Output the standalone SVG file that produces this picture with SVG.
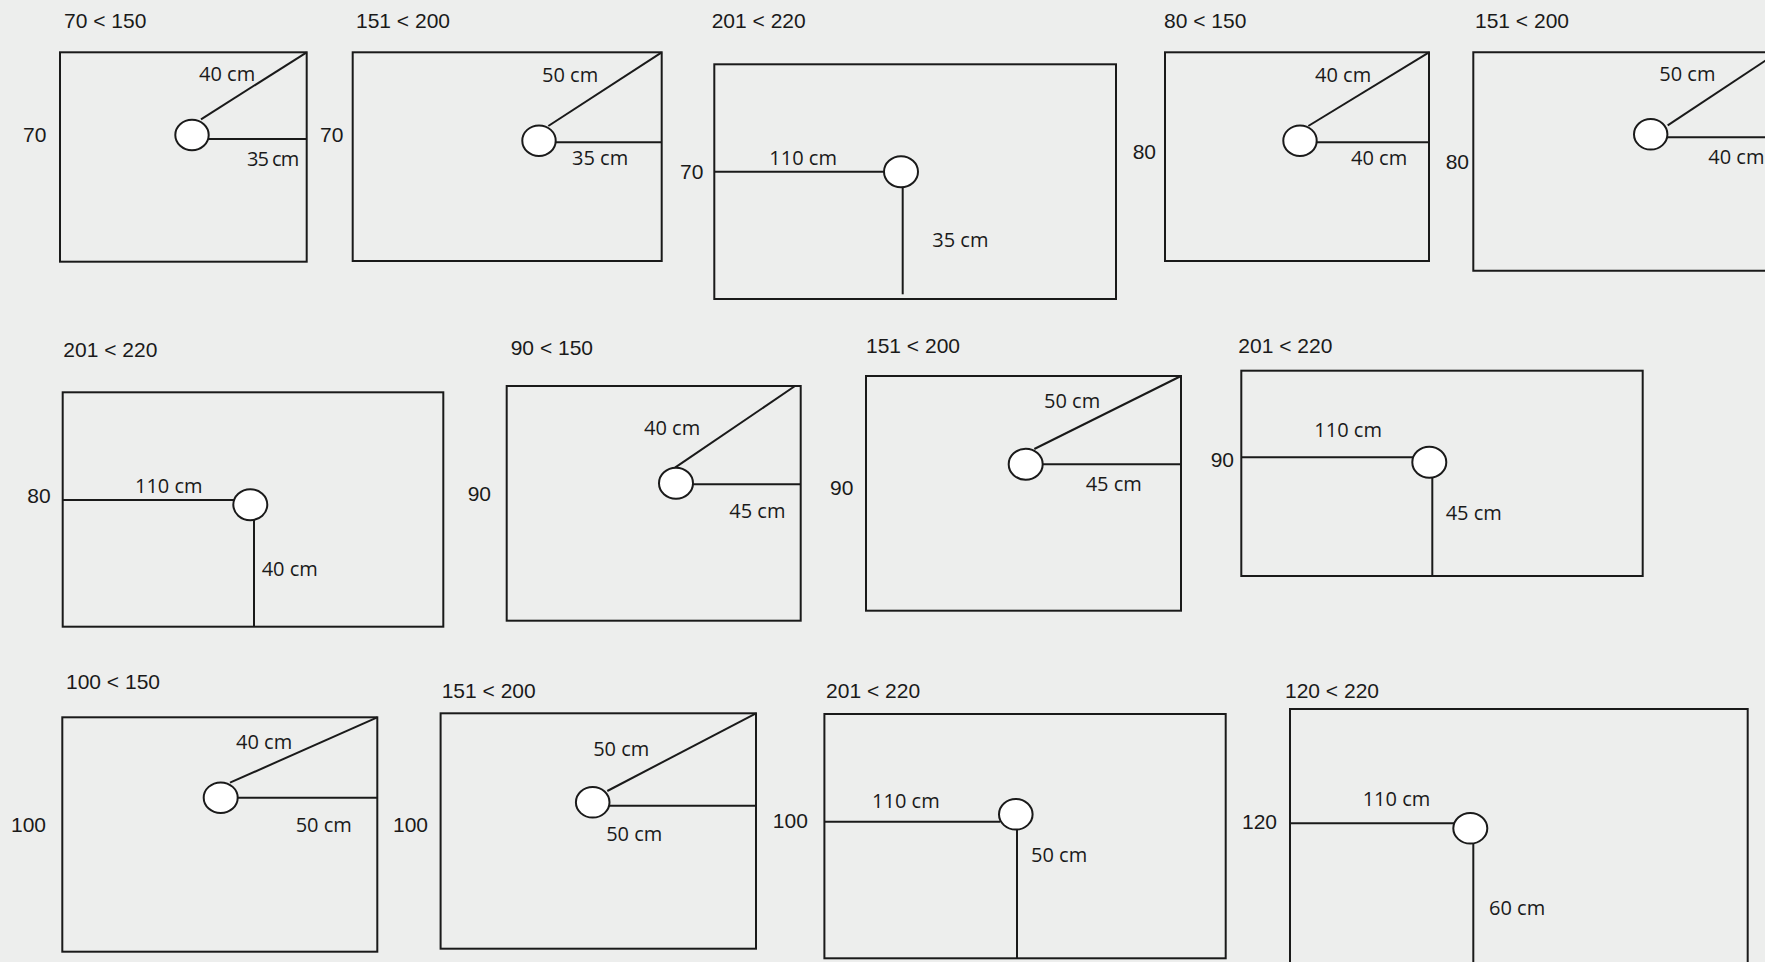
<svg xmlns="http://www.w3.org/2000/svg" width="1765" height="962" viewBox="0 0 1765 962">
<style>
.bg{fill:#edeeed}
.box{fill:none;stroke:#1a1a1a;stroke-width:2}
.ln{stroke:#1a1a1a;stroke-width:2;fill:none}
.hole{fill:#ffffff;stroke:#1a1a1a;stroke-width:2}
.t{font-family:"Liberation Sans",Arial,sans-serif;font-size:21px;fill:#1a1a1a}
.c{font-family:"Open Sans","Liberation Sans",sans-serif;font-size:20px;fill:#1a1a1a}
</style>
<rect class="bg" x="0" y="0" width="1765" height="962"/>

<g id="p1">
<text class="t" x="64" y="28">70 &lt; 150</text>
<text class="t" x="23" y="142">70</text>
<rect class="box" x="60" y="52.3" width="246.7" height="209.4"/>
<line class="ln" x1="201" y1="119.3" x2="306.7" y2="52.3"/>
<line class="ln" x1="205" y1="139" x2="306.7" y2="139"/>
<ellipse class="hole" cx="192" cy="135" rx="16.7" ry="15.3"/>
<text class="c" x="199" y="81">40 cm</text>
<text class="c" x="247" y="165.5" letter-spacing="-1">35 cm</text>
</g>

<g id="p2">
<text class="t" x="356" y="28">151 &lt; 200</text>
<text class="t" x="320" y="142">70</text>
<rect class="box" x="352.7" y="52.3" width="309" height="208.7"/>
<line class="ln" x1="548.3" y1="126" x2="661.7" y2="52.3"/>
<line class="ln" x1="553" y1="142.3" x2="661.7" y2="142.3"/>
<ellipse class="hole" cx="539" cy="140.7" rx="16.7" ry="15.3"/>
<text class="c" x="542" y="82">50 cm</text>
<text class="c" x="572" y="165">35 cm</text>
</g>

<g id="p3">
<text class="t" x="711.7" y="28">201 &lt; 220</text>
<text class="t" x="680" y="179">70</text>
<rect class="box" x="714.3" y="64.3" width="401.7" height="234.7"/>
<line class="ln" x1="714.3" y1="171.7" x2="886" y2="171.7"/>
<line class="ln" x1="902.7" y1="185" x2="902.7" y2="294.3"/>
<ellipse class="hole" cx="901" cy="171.7" rx="17" ry="15.5"/>
<text class="c" x="769.3" y="165">110 cm</text>
<text class="c" x="932.3" y="247">35 cm</text>
</g>

<g id="p4">
<text class="t" x="1164" y="28">80 &lt; 150</text>
<text class="t" x="1132.7" y="159">80</text>
<rect class="box" x="1165" y="52.3" width="264" height="208.7"/>
<line class="ln" x1="1308.3" y1="126" x2="1429" y2="52.3"/>
<line class="ln" x1="1314" y1="142.3" x2="1429" y2="142.3"/>
<ellipse class="hole" cx="1300" cy="140.7" rx="16.7" ry="15.3"/>
<text class="c" x="1315" y="81.7">40 cm</text>
<text class="c" x="1351" y="165">40 cm</text>
</g>

<g id="p5">
<text class="t" x="1475" y="28">151 &lt; 200</text>
<text class="t" x="1445.7" y="169">80</text>
<polyline class="box" points="1775,52.3 1473.3,52.3 1473.3,270.7 1775,270.7"/>
<line class="ln" x1="1667.7" y1="125.3" x2="1775" y2="54.3"/>
<line class="ln" x1="1665" y1="137.3" x2="1775" y2="137.3"/>
<ellipse class="hole" cx="1650.7" cy="134.3" rx="16.7" ry="15.3"/>
<text class="c" x="1659.3" y="81">50 cm</text>
<text class="c" x="1708.3" y="164">40 cm</text>
</g>

<g id="p6">
<text class="t" x="63.3" y="356.7">201 &lt; 220</text>
<text class="t" x="27.3" y="502.7">80</text>
<rect class="box" x="62.7" y="392.3" width="380.6" height="234.4"/>
<line class="ln" x1="62.7" y1="500" x2="236" y2="500"/>
<line class="ln" x1="254" y1="518" x2="254" y2="626.7"/>
<ellipse class="hole" cx="250.3" cy="504.7" rx="17" ry="15.5"/>
<text class="c" x="135" y="493.3">110 cm</text>
<text class="c" x="261.7" y="576">40 cm</text>
</g>

<g id="p7">
<text class="t" x="510.7" y="355">90 &lt; 150</text>
<text class="t" x="467.7" y="500.7">90</text>
<rect class="box" x="506.7" y="386" width="294" height="234.7"/>
<line class="ln" x1="675" y1="467.7" x2="795" y2="386"/>
<line class="ln" x1="690" y1="484.3" x2="800.7" y2="484.3"/>
<ellipse class="hole" cx="676" cy="483.3" rx="17" ry="15.5"/>
<text class="c" x="644" y="435">40 cm</text>
<text class="c" x="729.3" y="518.3">45 cm</text>
</g>

<g id="p8">
<text class="t" x="866" y="352.7">151 &lt; 200</text>
<text class="t" x="830" y="495">90</text>
<rect class="box" x="866" y="376" width="315" height="234.7"/>
<line class="ln" x1="1034.3" y1="449" x2="1181" y2="376"/>
<line class="ln" x1="1040" y1="464.3" x2="1181" y2="464.3"/>
<ellipse class="hole" cx="1025.7" cy="464.3" rx="17" ry="15.5"/>
<text class="c" x="1044" y="407.7">50 cm</text>
<text class="c" x="1085.7" y="491">45 cm</text>
</g>

<g id="p9">
<text class="t" x="1238.3" y="352.7">201 &lt; 220</text>
<text class="t" x="1210.7" y="467.3">90</text>
<rect class="box" x="1241.3" y="370.7" width="401.4" height="205.3"/>
<line class="ln" x1="1241.3" y1="457.3" x2="1415" y2="457.3"/>
<line class="ln" x1="1432.3" y1="475" x2="1432.3" y2="576"/>
<ellipse class="hole" cx="1429.3" cy="462.3" rx="17" ry="15.5"/>
<text class="c" x="1314.3" y="436.7">110 cm</text>
<text class="c" x="1445.7" y="520">45 cm</text>
</g>

<g id="p10">
<text class="t" x="66" y="689">100 &lt; 150</text>
<text class="t" x="11" y="831.7">100</text>
<rect class="box" x="62.3" y="717.3" width="315" height="234.4"/>
<line class="ln" x1="230" y1="782.7" x2="377.3" y2="717.3"/>
<line class="ln" x1="235" y1="797.7" x2="377.3" y2="797.7"/>
<ellipse class="hole" cx="220.7" cy="797.7" rx="17" ry="15.3"/>
<text class="c" x="236" y="749">40 cm</text>
<text class="c" x="295.7" y="831.7">50 cm</text>
</g>

<g id="p11">
<text class="t" x="441.7" y="697.7">151 &lt; 200</text>
<text class="t" x="393" y="831.7">100</text>
<rect class="box" x="440.6" y="713.3" width="315.4" height="235.4"/>
<line class="ln" x1="607.3" y1="791" x2="756" y2="713.3"/>
<line class="ln" x1="606" y1="805.7" x2="756" y2="805.7"/>
<ellipse class="hole" cx="592.7" cy="802.3" rx="16.8" ry="15.3"/>
<text class="c" x="593.2" y="755.7">50 cm</text>
<text class="c" x="606.2" y="840.7">50 cm</text>
</g>

<g id="p12">
<text class="t" x="826.1" y="697.7">201 &lt; 220</text>
<text class="t" x="772.8" y="828.3">100</text>
<rect class="box" x="824.4" y="714" width="401.3" height="244.3"/>
<line class="ln" x1="824.4" y1="821.7" x2="1000" y2="821.7"/>
<line class="ln" x1="1017" y1="828" x2="1017" y2="958.3"/>
<ellipse class="hole" cx="1015.8" cy="814.3" rx="16.8" ry="15.3"/>
<text class="c" x="872.1" y="808.3">110 cm</text>
<text class="c" x="1031" y="862.3">50 cm</text>
</g>

<g id="p13">
<text class="t" x="1285" y="698">120 &lt; 220</text>
<text class="t" x="1242" y="829">120</text>
<polyline class="box" points="1290,972 1290,709 1747.7,709 1747.7,972"/>
<line class="ln" x1="1290" y1="823.3" x2="1455" y2="823.3"/>
<line class="ln" x1="1473.3" y1="841" x2="1473.3" y2="972"/>
<ellipse class="hole" cx="1470.3" cy="828.3" rx="17" ry="15.3"/>
<text class="c" x="1362.7" y="806">110 cm</text>
<text class="c" x="1489" y="915">60 cm</text>
</g>
</svg>
